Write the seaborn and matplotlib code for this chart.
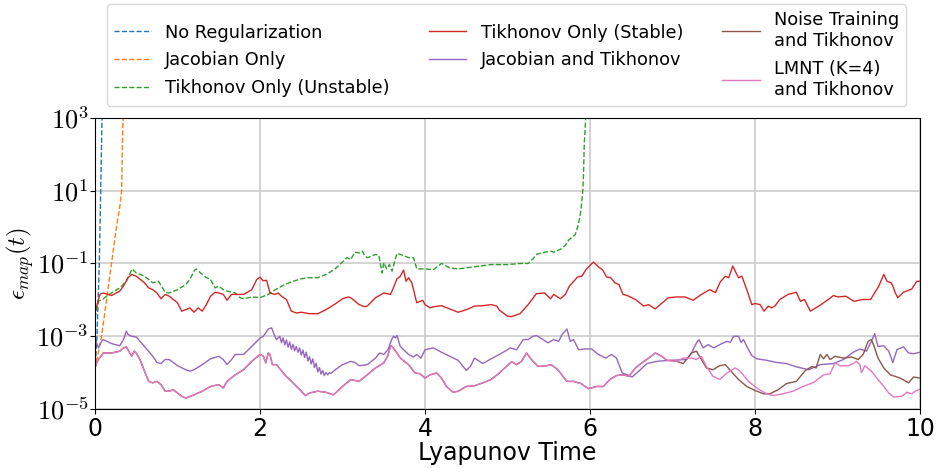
import numpy as np
import pandas as pd
import matplotlib
matplotlib.use("Agg")
import matplotlib.pyplot as plt
import seaborn as sns

# ---------------- data (time in Lyapunov units, error as log10) ----------------
noreg_t = [0.0, 0.024, 0.052, 0.069, 0.085, 0.095]
noreg_log = [-3.95, -3.0, -1.0, 1.0, 3.0, 4.2]

jac_t = [0.0, 0.04, 0.08, 0.14, 0.20, 0.26, 0.30, 0.323, 0.33, 0.34, 0.35]
jac_log = [-3.9, -3.45, -3.0, -2.0, -1.0, 0.0, 0.55, 1.0, 2.0, 3.0, 4.0]

tikun_t = [0.00, 0.04, 0.10, 0.20, 0.30, 0.38, 0.45, 0.50, 0.60, 0.70, 0.77, 0.85, 0.90,
           1.00, 1.10, 1.15, 1.20, 1.225, 1.30, 1.35, 1.40, 1.455, 1.50, 1.555, 1.60,
           1.70, 1.76, 1.80, 1.90, 2.00, 2.10, 2.20, 2.30, 2.40, 2.50, 2.60, 2.70, 2.80,
           2.90, 3.00, 3.05, 3.10, 3.15, 3.20, 3.24, 3.27, 3.30, 3.35, 3.40, 3.44, 3.48,
           3.50, 3.535, 3.57, 3.60, 3.66, 3.70, 3.80, 3.86, 3.90, 4.00, 4.10, 4.20, 4.30,
           4.40, 4.50, 4.60, 4.70, 4.80, 4.90, 5.00, 5.15, 5.25, 5.31, 5.35, 5.45, 5.52,
           5.56, 5.65, 5.70, 5.74, 5.78, 5.82, 5.85, 5.87, 5.89, 5.91, 5.92, 5.93, 5.95,
           5.96]
tikun_log = [-2.50, -2.04, -1.97, -1.81, -1.67, -1.49, -1.15, -1.26, -1.35, -1.53, -1.49,
             -1.79, -1.81, -1.72, -1.58, -1.44, -1.21, -1.15, -1.30, -1.39, -1.44, -1.67,
             -1.62, -1.72, -1.76, -1.81, -1.94, -1.97, -1.92, -1.94, -1.85, -1.70, -1.58,
             -1.49, -1.42, -1.39, -1.39, -1.30, -1.17, -0.96, -0.84, -0.89, -0.69, -0.71,
             -0.66, -0.80, -0.84, -0.80, -0.75, -0.78, -1.26, -0.98, -1.15, -1.03, -1.21,
             -0.72, -0.75, -0.84, -0.84, -1.15, -1.15, -1.17, -1.00, -1.12, -1.15, -1.12,
             -1.09, -1.06, -1.03, -1.03, -1.03, -1.00, -1.00, -0.87, -0.75, -0.69, -0.66,
             -0.69, -0.60, -0.50, -0.36, -0.28, -0.21, 0.0, 0.2, 0.47, 0.93, 1.39, 2.3,
             3.1, 4.0]

tikst_t = [0.00, 0.02, 0.06, 0.10, 0.20, 0.30, 0.345, 0.40, 0.445, 0.50, 0.60, 0.65, 0.70,
           0.75, 0.80, 0.85, 0.90, 0.95, 1.00, 1.05, 1.10, 1.15, 1.20, 1.25, 1.30, 1.35,
           1.40, 1.455, 1.50, 1.555, 1.60, 1.655, 1.70, 1.80, 1.90, 1.96, 2.00, 2.04, 2.08,
           2.12, 2.18, 2.22, 2.26, 2.32, 2.38, 2.44, 2.50, 2.60, 2.70, 2.80, 2.90, 3.00,
           3.07, 3.10, 3.20, 3.27, 3.30, 3.40, 3.50, 3.58, 3.60, 3.66, 3.70, 3.74, 3.77,
           3.80, 3.84, 3.88, 3.90, 3.94, 3.97, 4.00, 4.06, 4.10, 4.20, 4.30, 4.40, 4.50,
           4.60, 4.70, 4.80, 4.87, 4.90, 5.00, 5.05, 5.15, 5.25, 5.35, 5.45, 5.52, 5.56,
           5.64, 5.70, 5.75, 5.85, 5.90, 5.95, 6.04, 6.10, 6.15, 6.20, 6.25, 6.30, 6.35,
           6.40, 6.45, 6.55, 6.65, 6.71, 6.79, 6.85, 6.95, 7.05, 7.15, 7.25, 7.35, 7.45,
           7.52, 7.58, 7.64, 7.68, 7.73, 7.77, 7.80, 7.84, 7.90, 7.96, 8.00, 8.06, 8.11,
           8.16, 8.20, 8.24, 8.30, 8.40, 8.50, 8.55, 8.60, 8.67, 8.70, 8.80, 8.90, 8.95,
           9.00, 9.10, 9.20, 9.30, 9.40, 9.50, 9.56, 9.60, 9.65, 9.67, 9.70, 9.73, 9.80,
           9.90, 9.96, 10.0]
tikst_log = [-2.35, -2.17, -1.85, -1.81, -1.88, -1.76, -1.62, -1.39, -1.30, -1.35, -1.53,
             -1.67, -1.72, -1.81, -1.97, -1.85, -1.90, -1.99, -2.08, -2.31, -2.27, -2.22,
             -2.34, -2.22, -2.31, -2.13, -1.90, -1.79, -1.81, -1.85, -2.01, -1.85, -1.85,
             -1.85, -1.72, -1.44, -1.38, -1.48, -1.46, -1.81, -1.85, -1.81, -1.90, -1.99,
             -2.31, -2.36, -2.34, -2.38, -2.38, -2.27, -2.13, -1.97, -1.92, -1.94, -2.13,
             -2.19, -2.17, -1.94, -1.81, -1.85, -1.76, -1.42, -1.35, -1.18, -1.49, -1.39,
             -1.53, -1.90, -2.08, -2.04, -2.01, -2.13, -2.22, -2.19, -2.16, -2.25, -2.34,
             -2.27, -2.17, -2.16, -2.13, -2.17, -2.28, -2.45, -2.46, -2.38, -2.13, -1.83,
             -1.81, -1.97, -1.85, -1.97, -1.85, -1.62, -1.37, -1.35, -1.17, -0.96, -1.09,
             -1.17, -1.37, -1.39, -1.53, -1.58, -1.85, -1.88, -1.99, -2.17, -2.13, -2.25,
             -2.13, -1.94, -1.92, -1.92, -2.01, -1.85, -1.72, -1.80, -1.50, -1.35, -1.39,
             -1.07, -1.26, -1.39, -1.35, -1.72, -2.13, -2.10, -2.13, -2.31, -2.17, -2.22,
             -2.17, -1.99, -1.85, -1.79, -2.04, -1.99, -2.31, -2.27, -2.13, -1.97, -1.88,
             -1.92, -1.90, -2.04, -1.99, -1.99, -1.62, -1.30, -1.49, -1.53, -1.62, -1.81,
             -1.94, -1.79, -1.70, -1.49, -1.49]

jactik_t = [0.00, 0.04, 0.08, 0.10, 0.20, 0.30, 0.345, 0.38, 0.40, 0.445, 0.50, 0.60, 0.70,
            0.75, 0.80, 0.85, 0.90, 1.00, 1.10, 1.15, 1.20, 1.30, 1.40, 1.50, 1.555, 1.60,
            1.655, 1.70, 1.80, 1.90, 2.00, 2.04, 2.10, 2.14, 2.18, 2.20,
            2.24, 2.26, 2.28, 2.30, 2.32, 2.34, 2.36, 2.38, 2.40, 2.42, 2.44, 2.46, 2.48,
            2.50, 2.52, 2.54, 2.56, 2.58, 2.60, 2.62, 2.64, 2.66, 2.68, 2.70, 2.72, 2.74,
            2.76, 2.78, 2.80, 2.82, 2.84, 2.86, 2.88,
            2.90, 3.00, 3.10, 3.15, 3.20, 3.30, 3.40, 3.45, 3.50, 3.55, 3.60, 3.62, 3.64,
            3.66, 3.70, 3.80, 3.86, 3.90, 3.95, 4.00, 4.10, 4.20, 4.30, 4.40, 4.50, 4.55,
            4.60, 4.70, 4.80, 4.90, 5.00, 5.03, 5.11, 5.19, 5.25, 5.31, 5.35, 5.43, 5.49,
            5.56, 5.62, 5.66, 5.72, 5.76, 5.80, 5.86, 5.94, 6.02, 6.10, 6.19, 6.26, 6.32,
            6.39, 6.45, 6.51, 6.59, 6.69, 6.81, 6.97, 7.17, 7.23, 7.29, 7.32, 7.37, 7.43,
            7.50, 7.58, 7.66, 7.70, 7.74, 7.80, 7.83, 7.86, 7.90, 7.96, 8.02, 8.14, 8.26,
            8.38, 8.50, 8.65, 8.79, 8.95, 9.07, 9.19, 9.27, 9.35, 9.41, 9.45, 9.49, 9.56,
            9.62, 9.67, 9.72, 9.80, 9.86, 9.92, 10.0]
jactik_log = [-3.05, -3.32, -3.14, -3.09, -3.20, -3.26, -3.09, -2.86, -2.95, -3.00, -3.02,
              -3.28, -3.55, -3.72, -3.75, -3.64, -3.64, -3.81, -3.92, -3.96, -3.92, -3.78,
              -3.62, -3.55, -3.64, -3.78, -3.64, -3.50, -3.50, -3.28, -3.05, -3.00, -2.80,
              -2.77, -3.00, -3.09,
              -3.00, -3.18, -3.04, -3.24, -3.10, -3.30, -3.16, -3.36, -3.22, -3.40, -3.28,
              -3.44, -3.32, -3.52, -3.38, -3.58, -3.44, -3.68, -3.56, -3.76, -3.62, -3.86,
              -3.74, -3.98, -3.86, -4.04, -3.94, -4.08, -4.00, -4.06, -4.00, -4.02, -3.98,
              -3.94, -3.78, -3.69, -3.72, -3.81, -3.78, -3.60, -3.46, -3.50, -3.37, -3.07,
              -3.00, -3.04, -2.98, -3.28, -3.50, -3.57, -3.50, -3.60, -3.37, -3.32, -3.44,
              -3.55, -3.66, -3.94, -3.83, -3.60, -3.75, -3.62, -3.50, -3.37, -3.32, -3.37,
              -3.09, -3.09, -3.00, -2.98, -3.09, -3.18, -3.09, -3.14, -2.95, -2.80, -3.14,
              -3.09, -3.37, -3.35, -3.35, -3.50, -3.60, -3.50, -3.60, -4.01, -4.06, -4.12,
              -3.96, -3.75, -3.69, -3.66, -3.64, -3.46, -3.18, -3.09, -3.32, -3.23, -3.32,
              -3.22, -3.14, -3.17, -3.00, -3.00, -3.17, -3.09, -3.28, -3.53, -3.62, -3.66,
              -3.72, -3.75, -3.84, -3.92, -3.78, -3.75, -3.64, -3.44, -3.35, -3.41, -3.14,
              -2.93, -3.28, -3.26, -3.41, -3.72, -3.37, -3.29, -3.46, -3.48, -3.44]

# common part of "Noise Training" and "LMNT" curves (they overlap until t ~ 7)
shared_t = [0.00, 0.04, 0.10, 0.20, 0.30, 0.345, 0.38, 0.425, 0.445, 0.475, 0.50, 0.545,
            0.60, 0.65, 0.70, 0.75, 0.80, 0.85, 0.90, 0.95, 1.00, 1.05, 1.10, 1.20, 1.30,
            1.40, 1.50, 1.555, 1.60, 1.70, 1.80, 1.90, 2.00, 2.04, 2.07, 2.10, 2.12, 2.15,
            2.20, 2.30, 2.40, 2.50, 2.55, 2.60, 2.70, 2.80, 2.89, 3.00, 3.10, 3.20, 3.30,
            3.40, 3.50, 3.545, 3.585, 3.60, 3.66, 3.70, 3.80, 3.88, 3.94, 4.00, 4.06, 4.14,
            4.20, 4.26, 4.34, 4.40, 4.50, 4.60, 4.70, 4.80, 4.90, 5.00, 5.05, 5.11, 5.17,
            5.23, 5.29, 5.37, 5.47, 5.53, 5.61, 5.72, 5.80, 5.89, 5.98, 6.08, 6.16, 6.24,
            6.32, 6.40, 6.47, 6.55, 6.63, 6.71, 6.79, 6.87, 6.93, 7.05]
shared_log = [-3.85, -3.64, -3.46, -3.46, -3.41, -3.32, -3.29, -3.48, -3.55, -3.41, -3.46,
              -3.64, -3.96, -4.24, -4.28, -4.24, -4.33, -4.51, -4.51, -4.47, -4.56, -4.65,
              -4.70, -4.61, -4.51, -4.38, -4.33, -4.42, -4.24, -4.06, -3.92, -3.69, -3.50,
              -3.55, -3.73, -3.46, -3.50, -3.78, -3.78, -4.06, -4.28, -4.51, -4.63, -4.56,
              -4.51, -4.54, -4.61, -4.38, -4.19, -4.24, -4.06, -3.87, -3.73, -3.55, -3.26,
              -3.28, -3.46, -3.60, -3.78, -4.01, -4.03, -4.15, -4.06, -4.01, -4.15, -4.38,
              -4.54, -4.51, -4.38, -4.36, -4.28, -4.19, -4.01, -3.80, -3.70, -3.78, -3.69,
              -3.46, -3.64, -3.83, -3.81, -3.78, -3.92, -4.24, -4.24, -4.30, -4.44, -4.38,
              -4.38, -4.19, -4.08, -4.06, -4.10, -3.87, -3.73, -3.60, -3.46, -3.55, -3.66,
              -3.69]

noise_tail_t = [7.13, 7.23, 7.29, 7.35, 7.41, 7.49, 7.57, 7.64, 7.70, 7.80, 7.90, 8.00,
                8.10, 8.18, 8.28, 8.38, 8.50, 8.61, 8.69, 8.74, 8.79, 8.83, 8.87, 8.91,
                8.97, 9.07, 9.17, 9.25, 9.31, 9.37, 9.41, 9.44, 9.49, 9.56, 9.64, 9.76,
                9.86, 9.92, 10.0]
noise_tail_log = [-3.75, -3.46, -3.41, -3.64, -3.87, -3.92, -3.81, -3.78, -3.94, -4.19,
                  -4.38, -4.49, -4.58, -4.58, -4.47, -4.30, -4.24, -3.94, -3.83, -3.87,
                  -3.50, -3.62, -3.50, -3.64, -3.55, -3.60, -3.57, -3.64, -3.50, -3.14,
                  -3.09, -3.26, -3.60, -3.87, -4.06, -4.15, -4.28, -4.12, -4.15]

lmnt_tail_t = [7.13, 7.23, 7.29, 7.35, 7.41, 7.49, 7.57, 7.66, 7.76, 7.82, 7.92, 8.02,
               8.14, 8.22, 8.34, 8.46, 8.58, 8.71, 8.83, 8.91, 8.97, 9.03, 9.13, 9.19,
               9.23, 9.27, 9.29, 9.33, 9.41, 9.49, 9.56, 9.62, 9.68, 9.78, 9.84, 9.90,
               9.94, 10.0]
lmnt_tail_log = [-3.60, -3.60, -3.64, -3.55, -3.83, -4.10, -4.19, -4.01, -3.87, -3.96,
                 -4.24, -4.42, -4.58, -4.63, -4.58, -4.51, -4.38, -4.27, -4.06, -4.03,
                 -3.73, -3.81, -3.81, -3.75, -3.69, -3.78, -4.00, -3.81, -3.96, -4.19,
                 -4.38, -4.56, -4.67, -4.65, -4.54, -4.58, -4.51, -4.45]

labels = ["No Regularization", "Jacobian Only", "Tikhonov Only (Unstable)",
          "Tikhonov Only (Stable)", "Jacobian and Tikhonov",
          "Noise Training\nand Tikhonov", "LMNT (K=4)\nand Tikhonov"]
colors = ["#1f77b4", "#ff7f0e", "#2ca02c", "#d62728", "#9467bd", "#8c564b", "#e377c2"]
styles = ["--", "--", "--", "-", "-", "-", "-"]
xticks = [0, 2, 4, 6, 8, 10]
ytick_exps = [-5, -3, -1, 1, 3]

series = [
    (noreg_t, noreg_log),
    (jac_t, jac_log),
    (tikun_t, tikun_log),
    (tikst_t, tikst_log),
    (jactik_t, jactik_log),
    (shared_t + noise_tail_t, shared_log + noise_tail_log),
    (shared_t + lmnt_tail_t, shared_log + lmnt_tail_log),
]

# ---------------- plot ----------------
plt.rcParams["mathtext.fontset"] = "cm"
fig = plt.figure(figsize=(9.36, 4.68), dpi=100)
ax = fig.add_axes([0.1015, 0.126, 0.8815, 0.622])

for (t, lg), lab, col, ls in zip(series, labels, colors, styles):
    df = pd.DataFrame({"t": t, "err": np.power(10.0, np.array(lg, dtype=float))})
    sns.lineplot(data=df, x="t", y="err", ax=ax, color=col, linestyle=ls,
                 linewidth=1.0, label=lab, estimator=None, sort=False)

ax.set_yscale("log")
ax.set_ylim(1e-5, 1e3)
ax.set_xlim(0, 10)
ax.set_yticks([10.0 ** e for e in ytick_exps])
ax.set_yticklabels([r"$10^{%d}$" % e for e in ytick_exps], fontsize=19)
ax.yaxis.set_minor_locator(matplotlib.ticker.NullLocator())
ax.set_xticks(xticks)
ax.set_xticklabels([str(x) for x in xticks], fontsize=17)
ax.tick_params(axis="x", pad=2)
ax.tick_params(axis="y", pad=1)
ax.grid(True, color="#cccccc", linewidth=1.2)
ax.set_axisbelow(True)
ax.set_xlabel("Lyapunov Time", fontsize=17, labelpad=0)
ax.set_ylabel(r"$\epsilon_{map}(t)$", fontsize=18, labelpad=0)

handles, labs = ax.get_legend_handles_labels()
ax.get_legend().remove()
fig.legend(handles, labs, loc="upper center", bbox_to_anchor=(0.541, 0.999), ncol=3,
           fontsize=12.8, handlelength=2.1, columnspacing=2.2, labelspacing=0.55,
           borderaxespad=0.2)

fig.savefig("out.png", dpi=100)
